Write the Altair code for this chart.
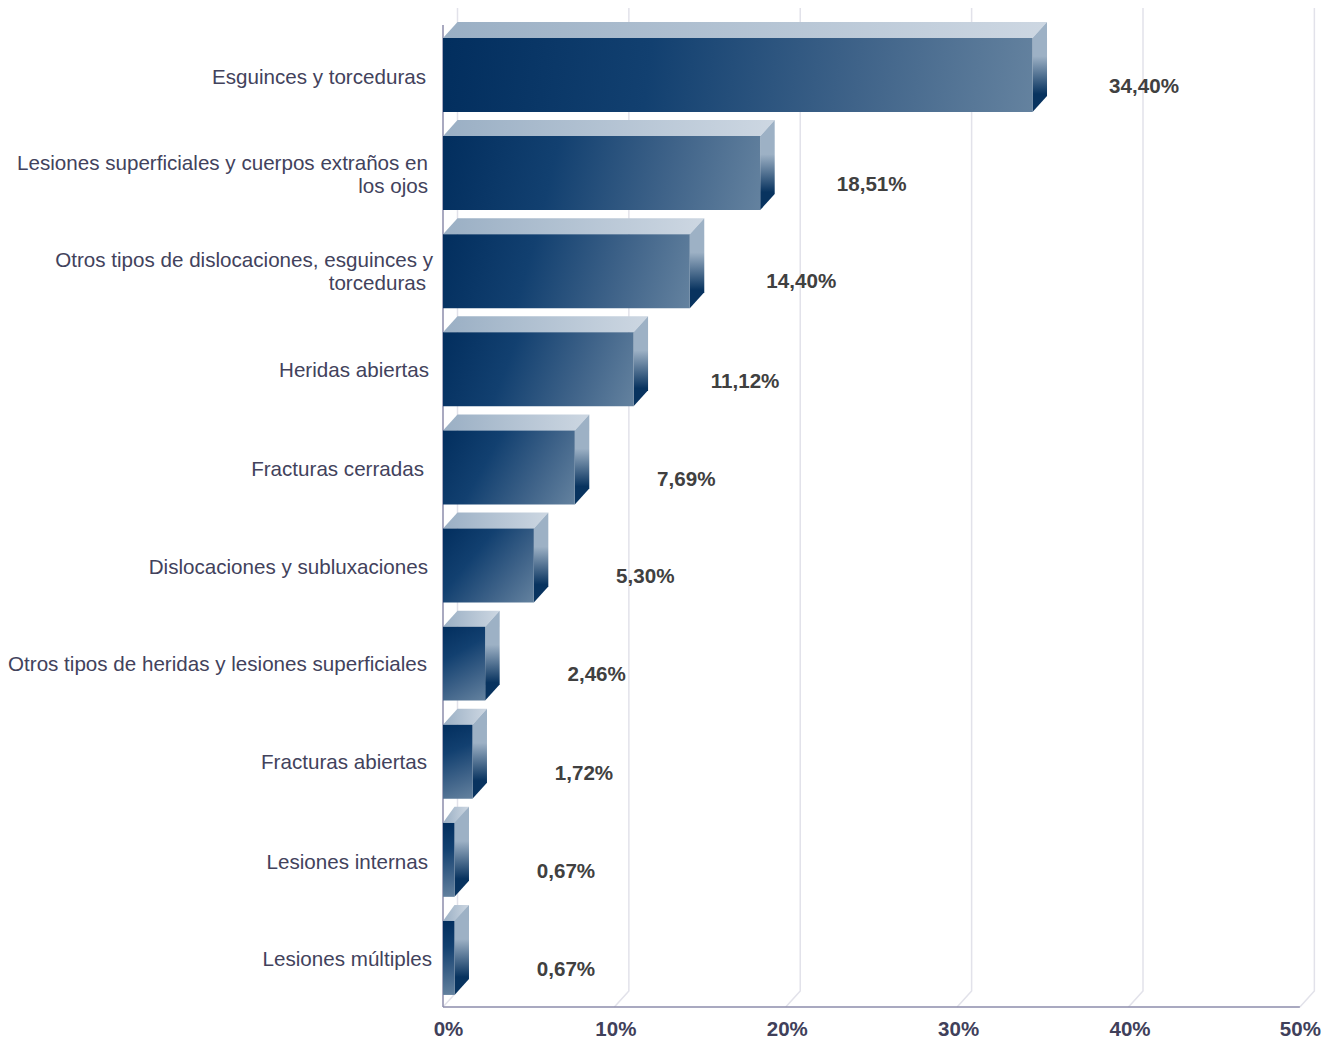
import altair as alt
import pandas as pd

categories = [
    "Esguinces y torceduras",
    "Lesiones superficiales y cuerpos extraños en\nlos ojos",
    "Otros tipos de dislocaciones, esguinces y\ntorceduras",
    "Heridas abiertas",
    "Fracturas cerradas",
    "Dislocaciones y subluxaciones",
    "Otros tipos de heridas y lesiones superficiales",
    "Fracturas abiertas",
    "Lesiones internas",
    "Lesiones múltiples",
]
values = [34.40, 18.51, 14.40, 11.12, 7.69, 5.30, 2.46, 1.72, 0.67, 0.67]
value_labels = ["34,40%", "18,51%", "14,40%", "11,12%", "7,69%", "5,30%", "2,46%", "1,72%", "0,67%", "0,67%"]
ticks = [0, 10, 20, 30, 40, 50]

# layout
PX_PER_UNIT = 874 / 51
ROW_PX = 98.1
HALF = 0.377
DEPTH_X = 14.5 / PX_PER_UNIT
DEPTH_Y = 16 / ROW_PX
Y_TOP, Y_BOTTOM = -0.683, 9.5
LINE_STEP = 23
label_gap = [[17], [15, 15], [10, 17], [14], [19], [15], [16], [16], [15], [11]]
label_dy = [3, -9.5, -10.5, 2, 3, 2, 1, 1, 3, 2]
value_dy = [12, 12, 11, 13, 13, 11, 11, 12, 12, 12]

FONT = "Liberation Sans"
x_scale = alt.Scale(domain=[0, 51], nice=False, zero=False)
y_scale = alt.Scale(domain=[Y_BOTTOM, Y_TOP], nice=False, zero=False)
x_axis = alt.Axis(
    values=ticks,
    labelExpr="datum.value + '%'",
    labelFont=FONT,
    labelFontSize=20.5,
    labelFontWeight="bold",
    labelColor="#40405a",
    labelPadding=12,
    labelOffset={
        "condition": [
            {"test": "datum.value === 0", "value": 5},
            {"test": "datum.value === 50", "value": 0},
        ],
        "value": 1,
    },
    labelFlush=False,
    labelOverlap=False,
    ticks=False,
    domain=False,
    grid=False,
)
X = lambda f="x": alt.X(f"{f}:Q", scale=x_scale, axis=x_axis, title=None)
Y = lambda f="y": alt.Y(f"{f}:Q", scale=y_scale, axis=None)


def stops(*pairs):
    return [alt.GradientStop(offset=o, color=c) for o, c in pairs]


def front_gradient(w, h):
    # gradient along the rectangle's real diagonal, expressed in bounding-box units
    r = w / h
    t = (r + 1 / r) / (r ** 2 + 1 / r ** 2)
    return alt.Gradient(
        gradient="linear",
        x1=0, y1=0, x2=t * r, y2=t / r,
        stops=stops((0, "#022e5e"), (0.35, "#124070"), (0.7, "#3f6389"), (1, "#64829f")),
    )


top_gradient = alt.Gradient(
    gradient="linear", x1=0, y1=0, x2=1, y2=0,
    stops=stops((0, "#9aafc4"), (1, "#cdd7e2")),
)
side_gradient = alt.Gradient(
    gradient="linear", x1=0, y1=0, x2=0, y2=1,
    stops=stops((0, "#9db1c5"), (0.38, "#9db1c5"), (0.8, "#08335f"), (1, "#08335f")),
)

layers = []

# back wall grid and floor
grid_rows = []
for t in ticks:
    grid_rows += [
        {"t": t, "x": t, "y": Y_BOTTOM, "o": 0},
        {"t": t, "x": t + DEPTH_X, "y": Y_BOTTOM - DEPTH_Y, "o": 1},
        {"t": t, "x": t + DEPTH_X, "y": Y_TOP, "o": 2},
    ]
layers.append(
    alt.Chart(pd.DataFrame(grid_rows))
    .mark_line(color="#e2e2ea", strokeWidth=1.5, interpolate="linear")
    .encode(x=X(), y=Y(), detail="t:N", order="o:Q")
)

# main axis lines
layers.append(
    alt.Chart(pd.DataFrame({"x": [0], "x2": [50], "y": [Y_BOTTOM]}))
    .mark_rule(color="#8c8cab", strokeWidth=1.5)
    .encode(x=X(), x2="x2:Q", y=Y())
)
layers.append(
    alt.Chart(pd.DataFrame({"x": [0], "y": [-0.51], "y2": [Y_BOTTOM]}))
    .mark_rule(color="#8c8cab", strokeWidth=1.5)
    .encode(x=X(), y=Y(), y2="y2:Q")
)

# 3D bars
for i, v in enumerate(values):
    ytop, ybot = i - HALF, i + HALF
    top_rows = [
        {"x": 0, "y": ytop, "y2": ytop},
        {"x": DEPTH_X, "y": ytop, "y2": ytop - DEPTH_Y},
        {"x": v, "y": ytop, "y2": ytop - DEPTH_Y},
        {"x": v + DEPTH_X, "y": ytop - DEPTH_Y, "y2": ytop - DEPTH_Y},
    ]
    side_rows = [
        {"x": v, "y": ybot, "y2": ytop},
        {"x": v + DEPTH_X, "y": ybot - DEPTH_Y, "y2": ytop - DEPTH_Y},
    ]
    layers.append(
        alt.Chart(pd.DataFrame(top_rows))
        .mark_area(color=top_gradient, interpolate="linear")
        .encode(x=X(), y=Y(), y2="y2:Q")
    )
    layers.append(
        alt.Chart(pd.DataFrame(side_rows))
        .mark_area(color=side_gradient, interpolate="linear")
        .encode(x=X(), y=Y(), y2="y2:Q")
    )
    layers.append(
        alt.Chart(pd.DataFrame({"x": [0], "x2": [v], "y": [ybot], "y2": [ytop]}))
        .mark_bar(color=front_gradient(v * PX_PER_UNIT, 2 * HALF * ROW_PX))
        .encode(x=X(), x2="x2:Q", y=Y(), y2="y2:Q")
    )
    # category label, one text mark per line
    for j, line in enumerate(categories[i].split("\n")):
        layers.append(
            alt.Chart(pd.DataFrame({"x": [0], "y": [i], "t": [line]}))
            .mark_text(
                align="right", baseline="middle", font=FONT, fontSize=20.6, color="#42425c",
                dx=-label_gap[i][j], dy=label_dy[i] + j * LINE_STEP,
            )
            .encode(x=X(), y=Y(), text="t:N")
        )
    # value label
    layers.append(
        alt.Chart(pd.DataFrame({"x": [v], "y": [i], "t": [value_labels[i]]}))
        .mark_text(
            align="center", baseline="middle", font=FONT, fontSize=20.6, fontWeight="bold",
            color="#404040", dx=111.5, dy=value_dy[i],
        )
        .encode(x=X(), y=Y(), text="t:N")
    )

chart = (
    alt.layer(*layers)
    .properties(
        width=874,
        height=999,
        padding={"left": 435, "top": 0, "right": 8, "bottom": 34},
        autosize=alt.AutoSizeParams(type="none"),
        background="white",
    )
    .configure_view(stroke=None)
)

chart.save("out.html", embed_options={"renderer": "svg", "actions": False})
